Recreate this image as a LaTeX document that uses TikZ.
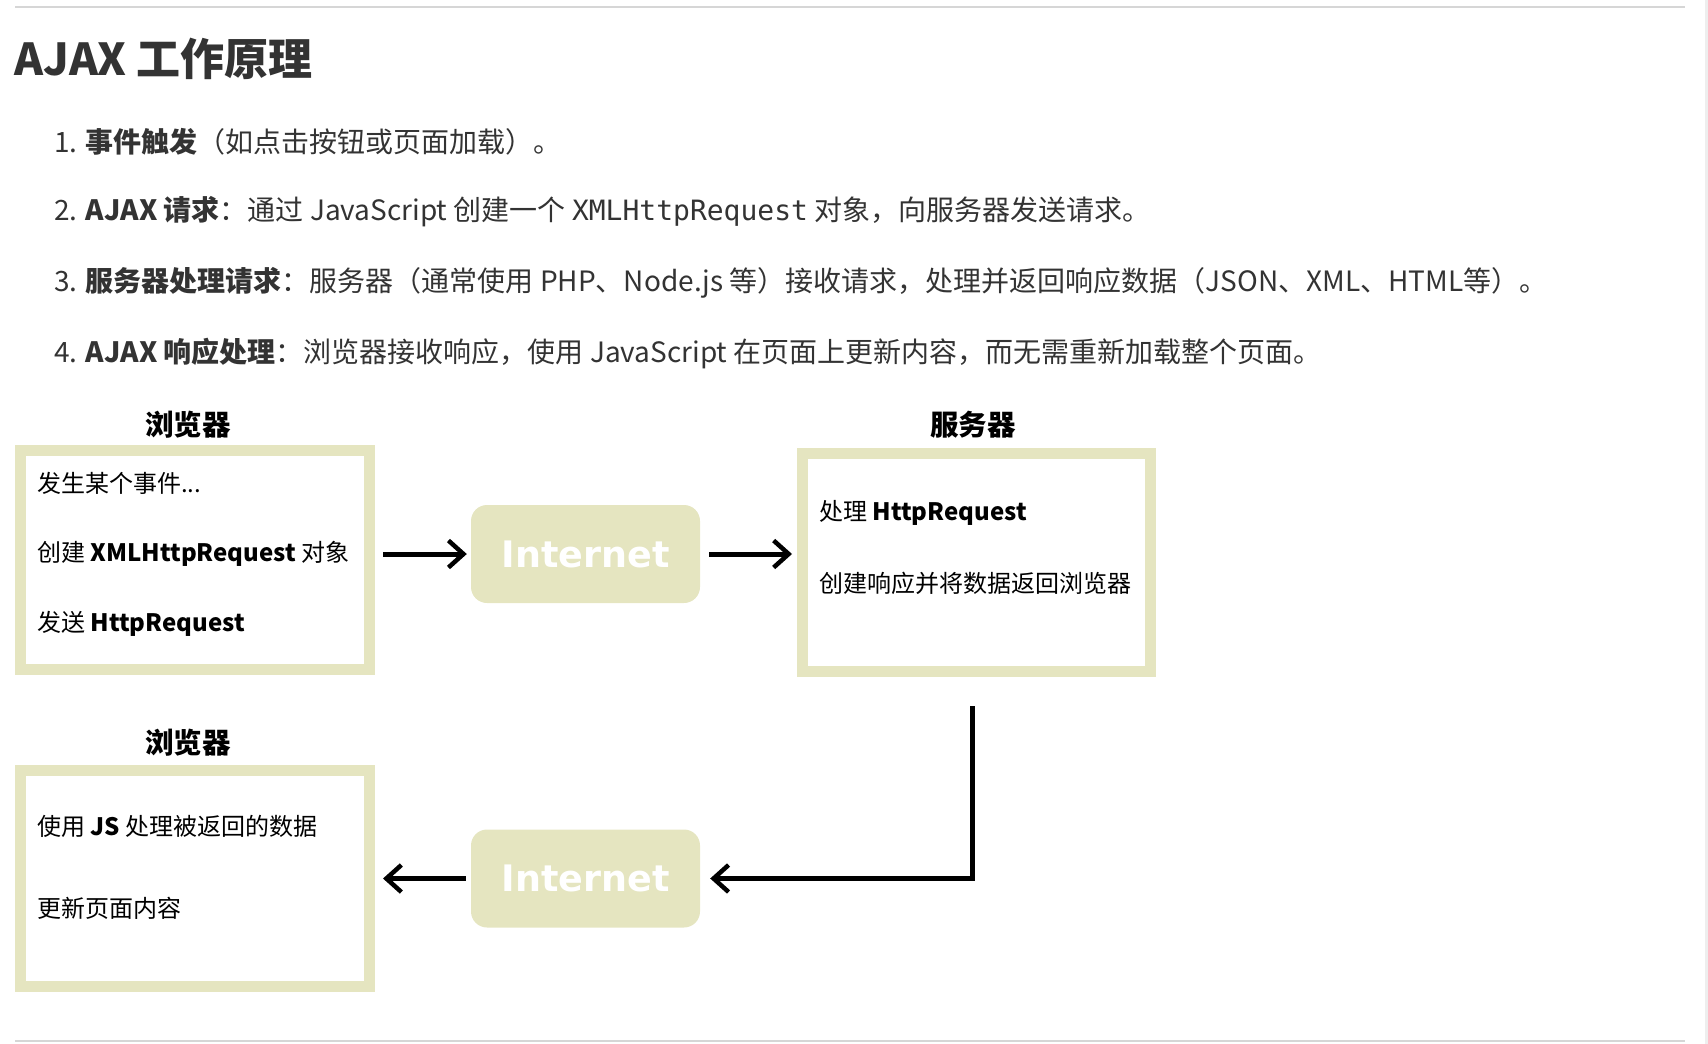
\documentclass[tikz,border=0pt]{standalone}
\usepackage{fontspec}
\setmainfont{Noto Sans CJK SC}
\newfontfamily\monof{DejaVu Sans Mono}
\newfontfamily\verdf{DejaVu Sans}
\usetikzlibrary{arrows.meta}
\definecolor{pale}{RGB}{229,229,192}
\definecolor{txt}{RGB}{51,51,51}
\definecolor{rulec}{RGB}{214,214,214}
\definecolor{stripc}{RGB}{238,238,238}
\begin{document}
\begin{tikzpicture}[x=1pt,y=-1pt,
  listitem/.style={anchor=west,inner sep=0pt,text=txt,font=\fontsize{28}{34}\selectfont},
  header/.style={inner sep=0pt,text=black,font=\fontsize{28.5}{33}\selectfont\bfseries},
  panel/.style={draw=pale,line width=11pt,fill=white,inner sep=0pt},
  boxtext/.style={anchor=west,inner sep=0pt,text=black,font=\fontsize{24}{29}\selectfont},
  netbox/.style={fill=pale,rounded corners=16pt,inner sep=0pt,minimum width=229pt,minimum height=98pt,text=white,font=\verdf\fontsize{36.5}{41}\selectfont\bfseries},
  conn/.style={line width=5pt,-{Straight Barb[length=15pt,width=27pt,line width=4.5pt]}},
  hrule/.style={draw=rulec,line width=2pt}
]
\useasboundingbox (0,0) rectangle (1708,1044);
\fill[stripc] (1705,0) rectangle (1708,1044);
\coordinate (r1a) at (15,7);
\coordinate (r1b) at (1685,7);
\coordinate (r2a) at (15,1041);
\coordinate (r2b) at (1685,1041);
\draw[hrule] (r1a) -- (r1b);
\draw[hrule] (r2a) -- (r2b);

\node[anchor=west,inner sep=0pt,text=txt,font=\fontsize{44}{50}\selectfont\bfseries] (title) at (14,59) {AJAX 工作原理};

\node[listitem] (l1) at (54,142) {1. {\bfseries 事件触发}（如点击按钮或页面加载）。};
\node[listitem] (l2) at (54,212) {2. {\bfseries AJAX 请求}：通过 JavaScript 创建一个 {\monof XMLHttpRequest} 对象，向服务器发送请求。};
\node[listitem] (l3) at (54,283) {3. {\bfseries 服务器处理请求}：服务器（通常使用 PHP、Node.js 等）接收请求，处理并返回响应数据（JSON、XML、HTML等）。};
\node[listitem] (l4) at (54,354) {4. {\bfseries AJAX 响应处理}：浏览器接收响应，使用 JavaScript 在页面上更新内容，而无需重新加载整个页面。};

\node[header] (h1) at (188,425) {浏览器};
\node[header] (h2) at (973,425) {服务器};
\node[header] (h3) at (188,743) {浏览器};

\node[panel,minimum width=349pt,minimum height=219pt] (b1) at (195,560) {};
\node[panel,minimum width=348pt,minimum height=218pt] (b2) at (976.5,562.5) {};
\node[panel,minimum width=349pt,minimum height=216pt] (b3) at (195,878.5) {};

\node[boxtext] (t11) at (37,483) {发生某个事件...};
\node[boxtext] (t12) at (37,554) {创建 {\bfseries XMLHttpRequest} 对象};
\node[boxtext] (t13) at (37,624) {发送 {\bfseries HttpRequest}};
\node[boxtext] (t21) at (819,513) {处理 {\bfseries HttpRequest}};
\node[boxtext] (t22) at (819,583) {创建响应并将数据返回浏览器};
\node[boxtext] (t31) at (37,826) {使用 {\bfseries JS} 处理被返回的数据};
\node[boxtext] (t32) at (37,908) {更新页面内容};

\node[netbox] (n1) at (585.5,554) {Internet};
\node[netbox] (n2) at (585.5,878.5) {Internet};

\draw[conn,shorten <=8pt,shorten >=4pt] (n1.west -| b1.east) -- (n1.west);
\draw[conn,shorten <=9pt,shorten >=5pt] (n1.east) -- (n1.east -| b2.west);
\coordinate (c1) at (972,706);
\draw[conn,shorten >=10pt] (c1) |- (n2.east);
\draw[conn,shorten <=5pt,shorten >=8pt] (n2.west) -- (n2.west -| b3.east);
\end{tikzpicture}
\end{document}
